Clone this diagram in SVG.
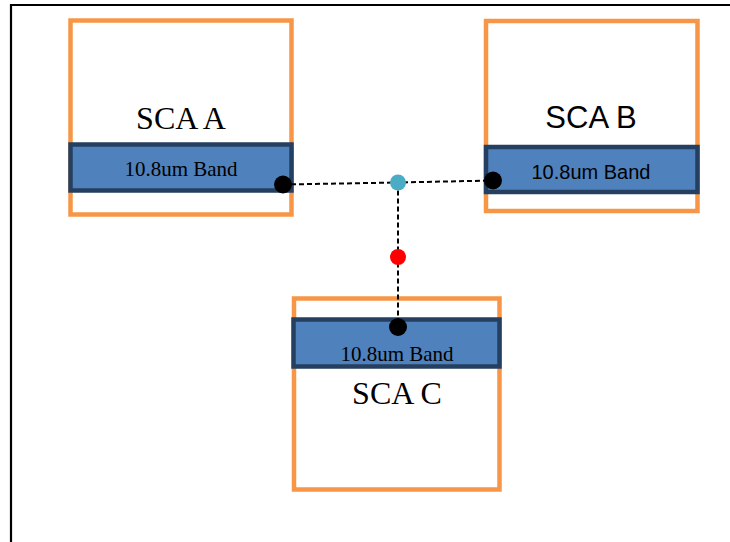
<svg xmlns="http://www.w3.org/2000/svg" width="730" height="542" viewBox="0 0 730 542">
  <style>
    .frame { stroke: #000; stroke-width: 2.2; fill: none; }
    .sca { fill: #fff; stroke: #f79646; stroke-width: 4.5; }
    .band { fill: #4f81bd; stroke: #243f60; stroke-width: 4.5; }
    .serif { font-family: "Liberation Serif", "Times New Roman", serif; fill: #000; text-anchor: middle; }
    .sans { font-family: "Liberation Sans", Arial, sans-serif; fill: #000; text-anchor: middle; }
    .link { stroke: #000; stroke-width: 2; stroke-dasharray: 5 3; fill: none; }
    .pin { fill: #000; }
  </style>
  <rect width="730" height="542" fill="#fff"/>
  <!-- outer frame: top and left edges -->
  <path class="frame" d="M11,542 V5 H730"/>

  <g id="sca-a">
    <rect class="sca" x="70.5" y="20.5" width="221" height="194"/>
    <rect class="band" x="70.5" y="144.5" width="221" height="46"/>
    <text class="serif" x="181" y="129" font-size="32">SCA A</text>
    <text class="serif" x="181" y="176" font-size="21">10.8um Band</text>
  </g>

  <g id="sca-b">
    <rect class="sca" x="486" y="21" width="211.5" height="190"/>
    <rect class="band" x="486" y="147" width="211.5" height="45"/>
    <text class="sans" x="591" y="128" font-size="31">SCA B</text>
    <text class="sans" x="591" y="179" font-size="20">10.8um Band</text>
  </g>

  <g id="sca-c">
    <rect class="sca" x="294" y="298.5" width="205.5" height="191"/>
    <rect class="band" x="293.5" y="319.5" width="206" height="47"/>
    <text class="serif" x="397" y="361" font-size="21">10.8um Band</text>
    <text class="serif" x="397" y="404" font-size="32">SCA C</text>
  </g>

  <g id="connectors">
    <path class="link" d="M283,184.5 L398,182.5 L493,180.5"/>
    <path class="link" d="M398,182.5 V327"/>
  </g>

  <g id="junctions">
    <circle class="pin" cx="283" cy="184.5" r="9"/>
    <circle class="pin" cx="493" cy="180.5" r="9"/>
    <circle class="pin" cx="398" cy="327" r="9"/>
    <circle cx="398" cy="182.5" r="8" fill="#4bacc6"/>
    <circle cx="398" cy="257" r="8" fill="#ff0000"/>
  </g>
</svg>
